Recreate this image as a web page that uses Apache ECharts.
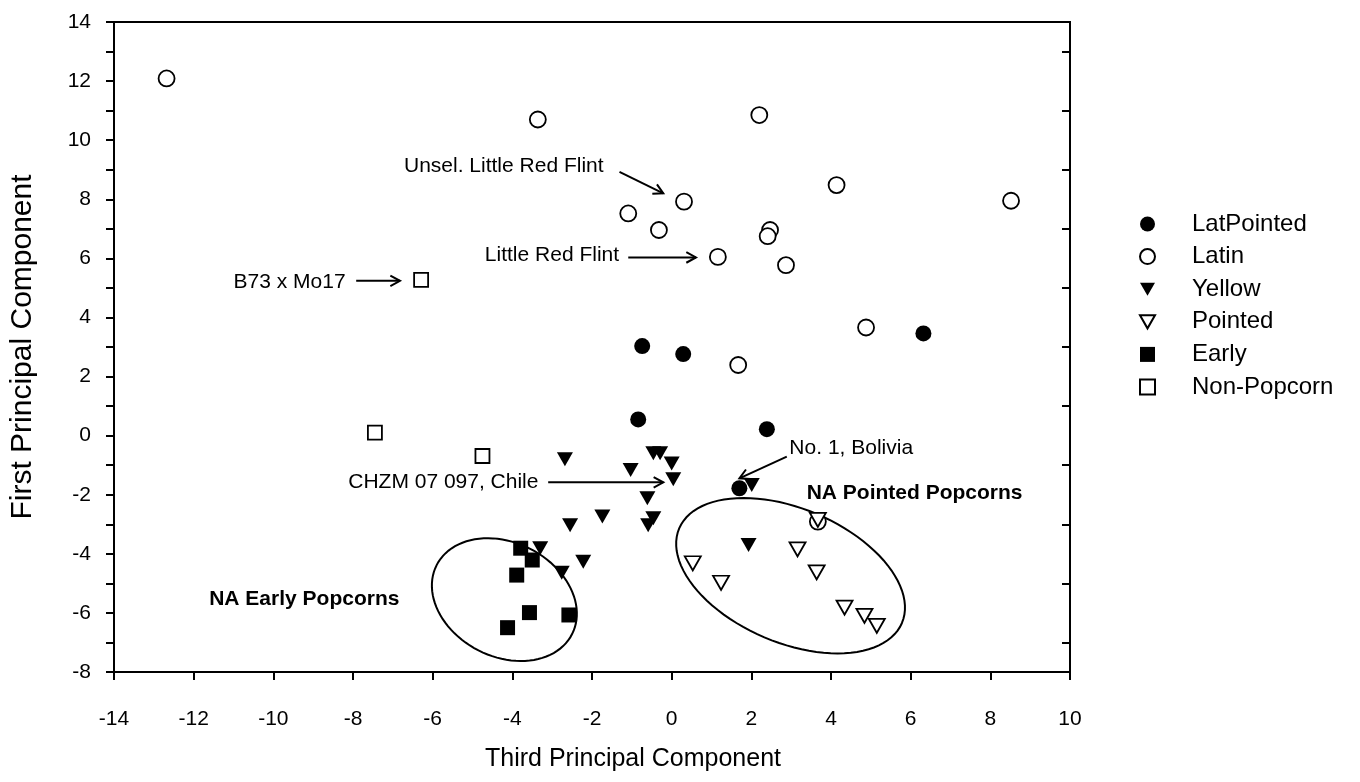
<!DOCTYPE html>
<html>
<head>
<meta charset="utf-8">
<script src="https://cdn.jsdelivr.net/npm/echarts@6/dist/echarts.min.js"></script>
<style>
html, body { margin: 0; padding: 0; background: #fff; }
#chart { width: 1360px; height: 782px; }
</style>
</head>
<body>
<div id="chart"></div>
<script>
// values: [third PC, first PC]
var latPointed = [[6.32, 3.46], [-0.74, 3.03], [0.29, 2.76], [-0.84, 0.55], [2.39, 0.22], [1.70, -1.78]];
var latin = [[-12.68, 12.09], [-3.36, 10.70], [2.20, 10.85], [4.14, 8.48], [8.52, 7.95], [0.31, 7.92],
    [-1.09, 7.52], [-0.32, 6.96], [2.47, 6.96], [2.41, 6.75], [1.16, 6.05], [2.87, 5.77],
    [4.88, 3.66], [1.67, 2.39], [3.67, -2.91]];
var yellow = [[-2.68, -0.80], [-0.46, -0.60], [-0.29, -0.60], [0.00, -0.94], [0.04, -1.48], [-1.03, -1.16],
    [-0.61, -2.12], [-0.46, -2.80], [-0.59, -3.03], [-1.74, -2.74], [-2.55, -3.03], [-2.22, -4.27],
    [-2.76, -4.64], [-3.30, -3.81], [2.01, -1.67], [1.93, -3.70]];
var pointed = [[3.67, -2.85], [3.16, -3.85], [0.53, -4.32], [3.64, -4.63], [1.24, -4.98],
    [4.34, -5.82], [4.84, -6.10], [5.15, -6.44]];
var early = [[-3.79, -3.81], [-3.50, -4.21], [-3.89, -4.72], [-3.57, -5.99], [-2.58, -6.07], [-4.12, -6.50]];
var nonPopcorn = [[-6.29, 5.27], [-7.45, 0.10], [-4.75, -0.69]];

// axis ranges
var xRange = [-14, 10];
var yRange = [-8, 14];

// callouts: text, anchor (left edge, middle), bold
var notes = [
    ['Unsel. Little Red Flint', -6.72, 9.13, false],
    ['Little Red Flint', -4.69, 6.11, false],
    ['B73 x Mo17', -11.0, 5.21, false],
    ['CHZM 07 097, Chile', -8.12, -1.56, false],
    ['No. 1, Bolivia', 2.955, -0.43, false],
    ['NA Pointed Popcorns', 3.39, -1.95, true],
    ['NA Early Popcorns', -11.61, -5.54, true]
];
// arrows: from x, y to x, y
var arrows = [
    [-1.31, 8.93, -0.21, 8.20],
    [-1.09, 6.03, 0.61, 6.03],
    [-7.92, 5.24, -6.82, 5.24],
    [-3.10, -1.58, -0.21, -1.58],
    [2.89, -0.71, 1.70, -1.445]
];
// group outlines (centre in data units)
var groupCentres = [[-4.20, -5.55], [2.985, -4.74]];

var FONT = 'Liberation Sans, Arial, sans-serif';
var ellipseShape = [{ rx: 76, ry: 57, angle: 27 }, { rx: 121, ry: 67, angle: 23 }];
var DOWN_TRI = 'path://M0,0L2,0L1,1.75Z';

var chart = echarts.init(document.getElementById('chart'));

function scatter(name, data, symbol, size, filled) {
    return {
        name: name,
        type: 'scatter',
        data: data,
        symbol: symbol,
        symbolSize: size,
        symbolKeepAspect: false,
        itemStyle: filled ? { color: '#000', opacity: 1 } : { color: '#fff', borderColor: '#000', borderWidth: 1.8, opacity: 1 },
        z: 5
    };
}

var option = {
    backgroundColor: '#fff',
    animation: false,
    textStyle: { fontFamily: FONT },
    grid: {
        left: 114, right: 290, top: 22, bottom: 110,
        show: true, borderColor: '#000', borderWidth: 2, backgroundColor: 'transparent'
    },
    legend: {
        orient: 'vertical',
        left: 1134,
        top: 207,
        itemWidth: 15,
        itemHeight: 15,
        itemGap: 8.6,
        data: ['LatPointed', 'Latin', 'Yellow', 'Pointed', 'Early', 'Non-Popcorn'],
        textStyle: { fontSize: 24, color: '#000', fontFamily: FONT, lineHeight: 24, padding: [0, 0, 0, 32] }
    },
    xAxis: {
        type: 'value', min: xRange[0], max: xRange[1], interval: 2,
        axisLine: { onZero: false, lineStyle: { color: '#000', width: 2 } },
        axisTick: { length: 8, lineStyle: { color: '#000', width: 2 } },
        axisLabel: { fontSize: 21, color: '#000', margin: 37, fontFamily: FONT },
        splitLine: { show: false }
    },
    yAxis: [{
        type: 'value', min: yRange[0], max: yRange[1], interval: 2,
        axisLine: { onZero: false, lineStyle: { color: '#000', width: 2 } },
        axisTick: { length: 8, lineStyle: { color: '#000', width: 2 } },
        minorTick: { show: true, splitNumber: 2, length: 8, lineStyle: { color: '#000', width: 2 } },
        axisLabel: { fontSize: 21, color: '#000', margin: 23, fontFamily: FONT },
        splitLine: { show: false }
    }, {
        type: 'value', min: yRange[0], max: yRange[1], interval: 2, position: 'right',
        axisLine: { onZero: false, lineStyle: { color: '#000', width: 2 } },
        axisTick: { show: false, inside: true },
        minorTick: { show: true, splitNumber: 2, length: 8, lineStyle: { color: '#000', width: 2 } },
        axisLabel: { show: false },
        splitLine: { show: false }
    }],
    graphic: [{
        type: 'text', x: 633, y: 759,
        style: { text: 'Third Principal Component', font: '25px ' + FONT, fill: '#000', align: 'center', verticalAlign: 'middle' }
    }, {
        type: 'text', x: 23, y: 347, rotation: Math.PI / 2,
        style: { text: 'First Principal Component', font: '30px ' + FONT, fill: '#000', align: 'center', verticalAlign: 'middle' }
    }],
    series: [
        {
            type: 'custom', silent: true, z: 3,
            data: groupCentres,
            renderItem: function (params, api) {
                var c = api.coord([api.value(0), api.value(1)]);
                var s = ellipseShape[params.dataIndex];
                var t = s.angle * Math.PI / 180, pts = [];
                for (var i = 0; i < 96; i++) {
                    var f = i / 96 * Math.PI * 2;
                    var ex = s.rx * Math.cos(f), ey = s.ry * Math.sin(f);
                    pts.push([c[0] + ex * Math.cos(t) - ey * Math.sin(t), c[1] + ex * Math.sin(t) + ey * Math.cos(t)]);
                }
                return { type: 'polygon', shape: { points: pts }, style: { fill: 'none', stroke: '#000', lineWidth: 2 } };
            }
        },
        {
            type: 'custom', silent: true, z: 4,
            data: arrows,
            renderItem: function (params, api) {
                var a = api.coord([api.value(0), api.value(1)]);
                var b = api.coord([api.value(2), api.value(3)]);
                var ang = Math.atan2(b[1] - a[1], b[0] - a[0]);
                var L = 11, w = 0.5;
                var h1 = [b[0] - L * Math.cos(ang - w), b[1] - L * Math.sin(ang - w)];
                var h2 = [b[0] - L * Math.cos(ang + w), b[1] - L * Math.sin(ang + w)];
                var st = { stroke: '#000', lineWidth: 2, fill: 'none' };
                return {
                    type: 'group', children: [
                        { type: 'line', shape: { x1: a[0], y1: a[1], x2: b[0], y2: b[1] }, style: st },
                        { type: 'polyline', shape: { points: [h1, b, h2] }, style: st }
                    ]
                };
            }
        },
        {
            type: 'custom', silent: true, z: 4,
            data: notes.map(function (n) { return [n[1], n[2]]; }),
            renderItem: function (params, api) {
                var p = api.coord([api.value(0), api.value(1)]);
                var n = notes[params.dataIndex];
                return {
                    type: 'text', x: p[0], y: p[1],
                    style: {
                        text: n[0], fill: '#000', align: 'left', verticalAlign: 'middle',
                        font: (n[3] ? 'bold ' : '') + '21px ' + FONT
                    }
                };
            }
        },
        scatter('LatPointed', latPointed, 'circle', 16, true),
        scatter('Latin', latin, 'circle', 16, false),
        scatter('Yellow', yellow, DOWN_TRI, [16, 14], true),
        scatter('Pointed', pointed, DOWN_TRI, [16, 14], false),
        scatter('Early', early, 'rect', 15, true),
        scatter('Non-Popcorn', nonPopcorn, 'rect', 14, false)
    ]
};
chart.setOption(option);
</script>
</body>
</html>
